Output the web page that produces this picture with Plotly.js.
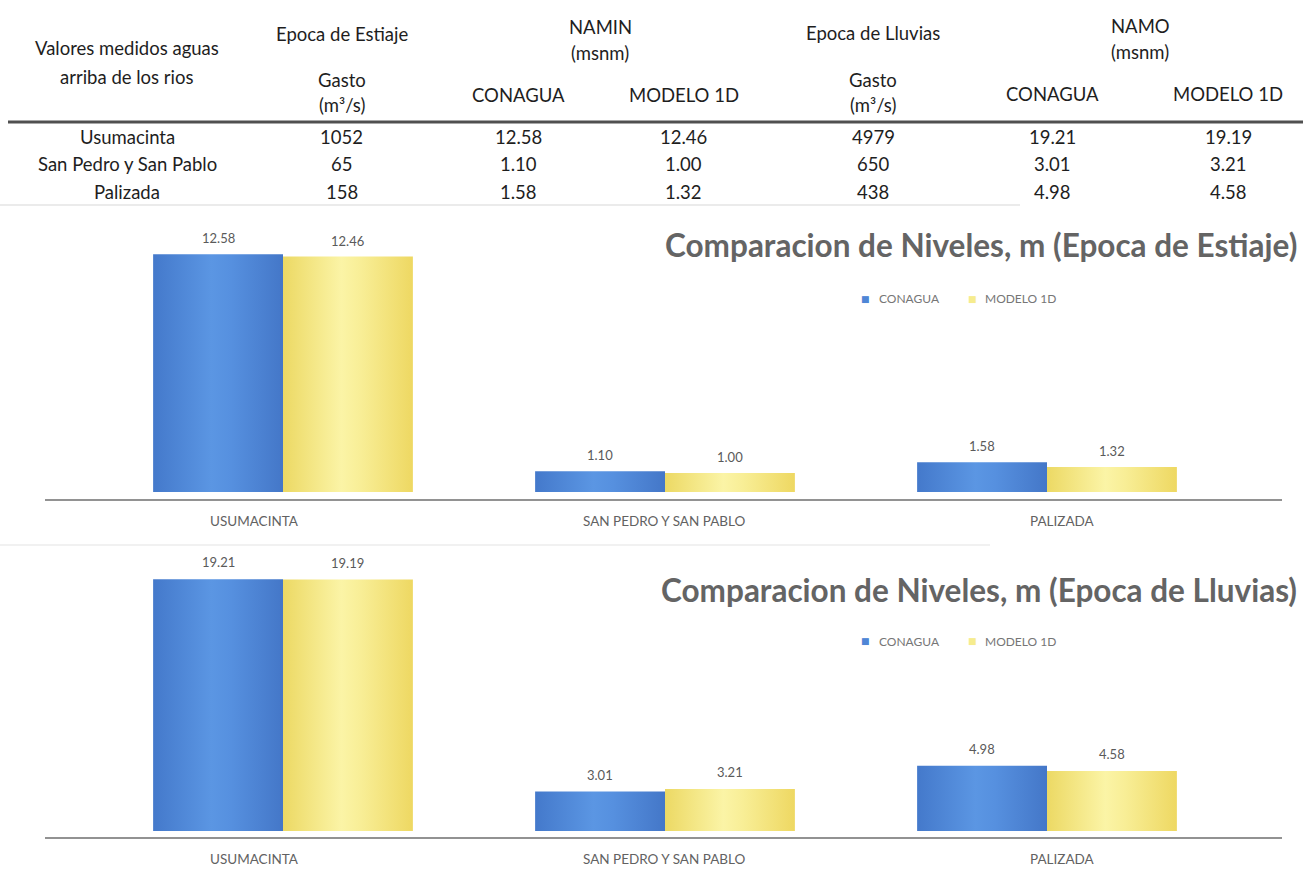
<!DOCTYPE html>
<html>
<head>
<meta charset="utf-8">
<script src="https://cdn.plot.ly/plotly-3.0.1.min.js"></script>
<style>
  html, body { margin: 0; padding: 0; background: #ffffff; }
  #chart { width: 1303px; height: 883px; }
</style>
</head>
<body>
<div id="chart"></div>
<script>
// River stations measured upstream
const rivers = ['Usumacinta', 'San Pedro y San Pablo', 'Palizada'];
const axisLabels = ['USUMACINTA', 'SAN PEDRO Y SAN PABLO', 'PALIZADA'];

// Dry season (Epoca de Estiaje)
const gastoEstiaje = [1052, 65, 158];
const naminConagua = [12.58, 1.10, 1.58];
const naminModelo = [12.46, 1.00, 1.32];

// Rainy season (Epoca de Lluvias)
const gastoLluvias = [4979, 650, 438];
const namoConagua = [19.21, 3.01, 4.98];
const namoModelo = [19.19, 3.21, 4.58];

const seriesNames = ['CONAGUA', 'MODELO 1D'];
const chartTitles = ['Comparacion de Niveles, m (Epoca de Estiaje)',
                     'Comparacion de Niveles, m (Epoca de Lluvias)'];

const W = 1303, H = 883;
const px = x => x / W;
const py = y => 1 - y / H;

const BLUE = '#4f86d6';
const YELLOW = '#f3e67c';
const FONT = 'Lato, "Open Sans", sans-serif';
const TABLE_INK = '#1e1e1e';
const CHART_INK = '#5a5a5a';

// ---- bar traces ----
const traces = [
  { type: 'bar', x: axisLabels, y: naminConagua, name: seriesNames[0],
    marker: { color: BLUE }, xaxis: 'x', yaxis: 'y', showlegend: false, hoverinfo: 'skip' },
  { type: 'bar', x: axisLabels, y: naminModelo, name: seriesNames[1],
    marker: { color: YELLOW }, xaxis: 'x', yaxis: 'y', showlegend: false, hoverinfo: 'skip' },
  { type: 'bar', x: axisLabels, y: namoConagua, name: seriesNames[0],
    marker: { color: BLUE }, xaxis: 'x2', yaxis: 'y2', showlegend: false, hoverinfo: 'skip' },
  { type: 'bar', x: axisLabels, y: namoModelo, name: seriesNames[1],
    marker: { color: YELLOW }, xaxis: 'x2', yaxis: 'y2', showlegend: false, hoverinfo: 'skip' }
];

const annotations = [];
const shapes = [];

function txt(text, x, y, opts) {
  annotations.push(Object.assign({
    text: text, x: px(x), y: py(y), xref: 'paper', yref: 'paper',
    xanchor: 'center', yanchor: 'middle', showarrow: false,
    font: { family: FONT, size: 18.5, color: TABLE_INK }
  }, opts || {}));
}

// ---- table header ----
txt('Valores medidos aguas', 127, 48);
txt('arriba de los rios', 127, 77);
txt('Epoca de Estiaje', 342, 34);
txt('Gasto', 342, 80);
txt('(m³/s)', 342, 105);
txt('NAMIN', 600, 27);
txt('(msnm)', 600, 53);
txt('CONAGUA', 518, 95);
txt('MODELO 1D', 684, 95);
txt('Epoca de Lluvias', 873, 33);
txt('Gasto', 873, 80);
txt('(m³/s)', 873, 105);
txt('NAMO', 1140, 26);
txt('(msnm)', 1140, 52);
txt('CONAGUA', 1052, 94);
txt('MODELO 1D', 1228, 94);

// ---- table body ----
const colX = [342, 518, 684, 873, 1052, 1228];
const rowY = [137, 164, 192];
rivers.forEach((r, i) => {
  txt(r, 127, rowY[i]);
  const cells = [
    String(gastoEstiaje[i]), naminConagua[i].toFixed(2), naminModelo[i].toFixed(2),
    String(gastoLluvias[i]), namoConagua[i].toFixed(2), namoModelo[i].toFixed(2)
  ];
  cells.forEach((c, j) => txt(c, colX[j], rowY[i]));
});

// header rule and faint edges
shapes.push({ type: 'line', xref: 'paper', yref: 'paper', x0: px(8), x1: 1, y0: py(122), y1: py(122),
              line: { color: '#505050', width: 3 } });
shapes.push({ type: 'line', xref: 'paper', yref: 'paper', x0: 0, x1: px(1020), y0: py(205), y1: py(205),
              line: { color: '#e4e4e4', width: 1.5 } });
shapes.push({ type: 'line', xref: 'paper', yref: 'paper', x0: 0, x1: px(990), y0: py(545), y1: py(545),
              line: { color: '#ececec', width: 1.5 } });

// ---- chart decorations ----
const charts = [
  { xa: 'x', ya: 'y', c: naminConagua, m: naminModelo, title: chartTitles[0],
    titleY: 245, legendY: 299, labelY: 521, baseY: 500, yshift: 16 },
  { xa: 'x2', ya: 'y2', c: namoConagua, m: namoModelo, title: chartTitles[1],
    titleY: 590, legendY: 641, labelY: 859, baseY: 838, yshift: 17 }
];
const labelShift = [-29, -1, 15];
const OFF = 0.17;
const legendKeys = [
  { color: BLUE, name: seriesNames[0], keyX: 865, textX: 877 },
  { color: '#f6ec8e', name: seriesNames[1], keyX: 972, textX: 983 }
];

charts.forEach(ch => {
  annotations.push({
    text: '<b>' + ch.title + '</b>', x: px(1299), y: py(ch.titleY), xref: 'paper', yref: 'paper',
    xanchor: 'right', yanchor: 'middle', showarrow: false,
    font: { family: FONT, size: 31.5, color: '#646464' }
  });
  // series key
  legendKeys.forEach(k => {
    annotations.push({
      text: '■', x: px(k.keyX), y: py(ch.legendY), xref: 'paper', yref: 'paper',
      xanchor: 'center', yanchor: 'middle', showarrow: false,
      font: { family: 'DejaVu Sans', size: 9, color: k.color }
    });
    annotations.push({
      text: k.name, x: px(k.textX), y: py(ch.legendY), xref: 'paper', yref: 'paper',
      xanchor: 'left', yanchor: 'middle', showarrow: false,
      font: { family: FONT, size: 12, color: '#767676' }
    });
  });
  axisLabels.forEach((lab, i) => {
    annotations.push({
      text: lab, x: i, xref: ch.xa, y: py(ch.labelY), yref: 'paper',
      xanchor: 'center', yanchor: 'middle', showarrow: false, xshift: labelShift[i],
      font: { family: FONT, size: 13.5, color: '#626262' }
    });
    annotations.push({
      text: ch.c[i].toFixed(2), x: i - OFF, xref: ch.xa, y: ch.c[i], yref: ch.ya,
      xanchor: 'center', yanchor: 'middle', showarrow: false, yshift: ch.yshift,
      font: { family: FONT, size: 13, color: CHART_INK }
    });
    annotations.push({
      text: ch.m[i].toFixed(2), x: i + OFF, xref: ch.xa, y: ch.m[i], yref: ch.ya,
      xanchor: 'center', yanchor: 'middle', showarrow: false, yshift: ch.yshift,
      font: { family: FONT, size: 13, color: CHART_INK }
    });
  });
  shapes.push({ type: 'line', xref: 'paper', yref: 'paper',
                x0: px(45), x1: px(1282), y0: py(ch.baseY), y1: py(ch.baseY),
                line: { color: '#6e6e6e', width: 1.5 } });
});

const hiddenX = { showticklabels: false, showline: false, showgrid: false, zeroline: false,
                  ticks: '', fixedrange: true, domain: [px(92), px(1238)] };
const hiddenY = { visible: false, showgrid: false, zeroline: false, fixedrange: true };

const layout = {
  width: W, height: H,
  margin: { l: 0, r: 0, t: 0, b: 0 },
  paper_bgcolor: '#ffffff', plot_bgcolor: '#ffffff',
  barmode: 'group', bargap: 0.32, bargroupgap: 0,
  showlegend: false,
  xaxis: Object.assign({}, hiddenX, { anchor: 'y' }),
  yaxis: Object.assign({}, hiddenY, { domain: [py(492), py(220)], range: [0, (492 - 220) / 18.9] }),
  xaxis2: Object.assign({}, hiddenX, { anchor: 'y2' }),
  yaxis2: Object.assign({}, hiddenY, { domain: [py(831), py(560)], range: [0, (831 - 560) / 13.1] }),
  annotations: annotations,
  shapes: shapes
};

Plotly.newPlot('chart', traces, layout, { staticPlot: true, displayModeBar: false }).then(gd => {
  // cylinder-like horizontal shading on the bars
  const svg = gd.querySelector('svg.main-svg');
  const NS = 'http://www.w3.org/2000/svg';
  const defs = document.createElementNS(NS, 'defs');
  function grad(id, stops) {
    const g = document.createElementNS(NS, 'linearGradient');
    g.setAttribute('id', id);
    g.setAttribute('x1', '0'); g.setAttribute('x2', '1');
    g.setAttribute('y1', '0'); g.setAttribute('y2', '0');
    stops.forEach(([o, c]) => {
      const s = document.createElementNS(NS, 'stop');
      s.setAttribute('offset', o); s.setAttribute('stop-color', c);
      g.appendChild(s);
    });
    defs.appendChild(g);
  }
  grad('cylBlue', [['0', '#4479cb'], ['0.45', '#5b96e3'], ['0.6', '#5690df'], ['1', '#4477c8']]);
  grad('cylYellow', [['0', '#ecd964'], ['0.45', '#fbf4a6'], ['0.6', '#f8ee96'], ['1', '#eed862']]);
  svg.insertBefore(defs, svg.firstChild);
  gd.querySelectorAll('.barlayer .trace').forEach((tr, k) => {
    const id = (k % 2 === 0) ? 'cylBlue' : 'cylYellow';
    tr.querySelectorAll('path').forEach(p => { p.style.fill = 'url(#' + id + ')'; });
  });
});
</script>
</body>
</html>
